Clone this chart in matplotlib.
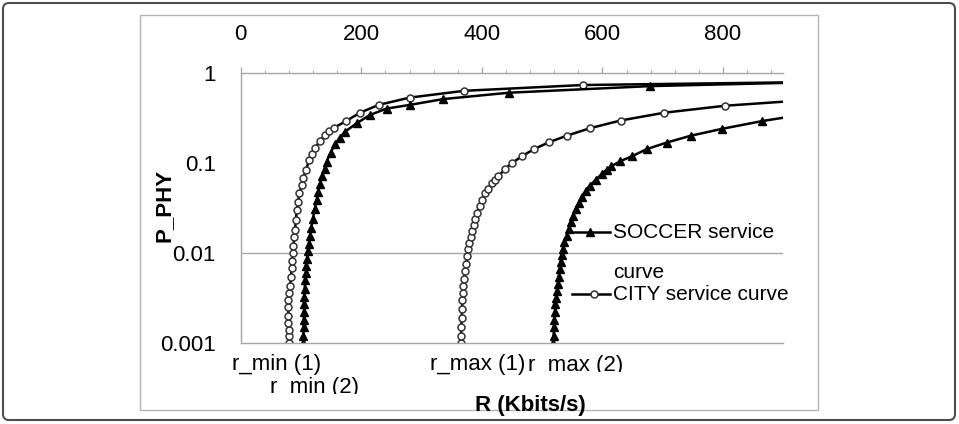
import matplotlib.pyplot as plt
from matplotlib.patches import FancyBboxPatch, Rectangle
from matplotlib.lines import Line2D
from matplotlib.ticker import MultipleLocator, NullLocator
from matplotlib.transforms import Bbox

plt.rcParams['font.family'] = ['Liberation Sans', 'DejaVu Sans']

# service curves (R in Kbits/s, P_PHY)
city1_r = [80.6, 80.0, 79.5, 79.0, 79.0, 79.0, 79.2, 80.5, 82.0, 83.4, 84.5, 85.5,
           86.2, 87.5, 88.8, 90.0, 91.5, 93.0, 95.0, 97.5, 101, 104, 108, 113.8,
           118, 124, 131.5, 140, 147, 155, 174.6, 197.8, 229, 280.7, 370.8, 567, 900]
city1_p = [0.001, 0.0012, 0.0014, 0.0017, 0.002, 0.0025, 0.003, 0.0036, 0.0043, 0.0055,
           0.0068, 0.0082, 0.010, 0.012, 0.015, 0.018, 0.023, 0.030, 0.037, 0.046, 0.057,
           0.068, 0.083, 0.108, 0.125, 0.148, 0.175, 0.205, 0.225, 0.246, 0.29, 0.36,
           0.44, 0.53, 0.63, 0.73, 0.78]

soccer1_r = [103.8, 104.0, 104.3, 104.6, 105, 105, 105.3, 106, 107, 108, 109, 110.4,
             111.5, 113, 115, 117, 119.5, 123.2, 126, 129, 131.5, 135, 139, 142.6, 149,
             156.4, 164, 173, 192.4, 214.4, 242, 280.8, 336, 445, 679, 900]
soccer1_p = [0.001, 0.0012, 0.0015, 0.0018, 0.0022, 0.0027, 0.0033, 0.004, 0.005, 0.006,
             0.0072, 0.0087, 0.0105, 0.0125, 0.0155, 0.019, 0.024, 0.031, 0.039, 0.048,
             0.058, 0.0707, 0.085, 0.103, 0.13, 0.16, 0.19, 0.222, 0.275, 0.34, 0.40,
             0.44, 0.51, 0.60, 0.71, 0.77]

city2_r = [364.8, 365.5, 366, 366.5, 367, 367.8, 368.5, 369.3, 370.5, 372, 373.6, 375.5,
           377.5, 379.5, 381.4, 384, 386.5, 389, 392.5, 396.9, 401, 405.2, 410.5, 416.3,
           421.5, 427.3, 438, 449.4, 466, 486.4, 511, 540.6, 579, 630, 702.5, 803, 900]
city2_p = [0.001, 0.0012, 0.0015, 0.0019, 0.0024, 0.003, 0.0036, 0.0043, 0.0052, 0.0063,
           0.0076, 0.0092, 0.011, 0.0128, 0.015, 0.0175, 0.0205, 0.024, 0.028, 0.033,
           0.039, 0.046, 0.052, 0.0595, 0.065, 0.0707, 0.085, 0.099, 0.118, 0.142, 0.169,
           0.20, 0.242, 0.295, 0.36, 0.43, 0.477]

soccer2_r = [518.4, 519, 519.5, 520, 521, 522, 523, 524.5, 526, 527.5, 529, 530.5, 532.3,
             534.5, 537, 540.6, 544, 547.5, 551.6, 556, 560.5, 565.5, 572, 579, 589, 598.7,
             607, 615, 628.9, 648.4, 673.3, 706.5, 746.3, 797.7, 865, 900]
soccer2_p = [0.001, 0.0012, 0.0015, 0.0018, 0.0022, 0.0027, 0.0032, 0.0038, 0.0046, 0.0055,
             0.0066, 0.0079, 0.0095, 0.0112, 0.0132, 0.0155, 0.0185, 0.022, 0.026, 0.031,
             0.036, 0.042, 0.049, 0.056, 0.065, 0.075, 0.084, 0.092, 0.104, 0.118, 0.142,
             0.168, 0.20, 0.238, 0.291, 0.317]

y_ticks = [0.001, 0.01, 0.1, 1]
y_tick_labels = ['0.001', '0.01', '0.1', '1']
rate_labels = ['r_min (1)', 'r_min (2)', 'r_max (1)', 'r_max (2)']
legend_labels = ['SOCCER service', 'curve', 'CITY service curve']

W, H = 959, 424
fig = plt.figure(figsize=(W / 100, H / 100), dpi=100)

# plot area in pixels: left 240.7, right 783.3, top 72.7, bottom 343.3
ax = fig.add_axes([240.7 / W, 1 - 343.3 / H, (783.3 - 240.7) / W, (343.3 - 72.7) / H])

circ = dict(color='black', lw=1.8, marker='o', markersize=5, mfc='white',
            mec='#333333', mew=1.1)
tri = dict(color='black', lw=1.8, marker='^', markersize=5.5, mfc='black', mec='black')

ax.plot(city1_r, city1_p, markevery=list(range(len(city1_r) - 1)), **circ)
ax.plot(soccer1_r, soccer1_p, markevery=list(range(len(soccer1_r) - 1)), **tri)
ax.plot(city2_r, city2_p, markevery=list(range(len(city2_r) - 1)), **circ)
ax.plot(soccer2_r, soccer2_p, markevery=list(range(len(soccer2_r) - 1)), **tri)

ax.set_yscale('log')
ax.set_xlim(0, 900)
ax.set_ylim(0.001, 1)
ax.axhline(0.01, color='#a6a6a6', lw=1, zorder=0)

ax.set_yticks(y_ticks)
ax.set_yticklabels(y_tick_labels)
ax.yaxis.set_minor_locator(NullLocator())
ax.tick_params(axis='y', length=0, pad=18, labelsize=16)

ax.xaxis.tick_top()
ax.xaxis.set_major_locator(MultipleLocator(200))
ax.xaxis.set_minor_locator(MultipleLocator(40))
ax.tick_params(axis='x', which='major', direction='out', length=4, color='#999999',
               labelsize=16, pad=16)
ax.tick_params(axis='x', which='minor', direction='out', length=2.5, color='#999999')

ax.spines['right'].set_visible(False)
for s in ['left', 'top', 'bottom']:
    ax.spines[s].set_color('#a6a6a6')
    ax.spines[s].set_linewidth(1)

# overlay in pixel coordinates for frames, labels and legend
ov = fig.add_axes([0, 0, 1, 1])
ov.set_xlim(0, W)
ov.set_ylim(H, 0)
ov.axis('off')
ov.patch.set_visible(False)

ov.add_patch(FancyBboxPatch((3, 3), 952, 417, boxstyle='round,pad=0,rounding_size=6',
                            fc='none', ec='#4d4d4d', lw=1.5))
ov.add_patch(Rectangle((140, 15), 678, 395, fc='none', ec='#b5b5b5', lw=1))

ov.text(164, 205, 'P_PHY', rotation=90, ha='center', va='center', fontsize=16,
        fontweight='bold')
ov.text(530, 405, 'R (Kbits/s)', ha='center', va='center', fontsize=16,
        fontweight='bold')

# label baselines; the second r_min and r_max labels are cut off just below the baseline
label_pos = [(277, 370), (314, 393), (478, 370), (576, 371)]
label_clip = [None, 393, None, 371]
for lab, (x, y), clip in zip(rate_labels, label_pos, label_clip):
    t = ov.text(x, y, lab, ha='center', va='baseline', fontsize=16)
    if clip is not None:
        t.set_clip_box(Bbox.from_extents(0, H - clip - 1, W, H))
        t.set_clip_on(True)

ov.add_line(Line2D([572, 610], [232.3, 232.3], color='black', lw=1.8))
ov.plot([590], [232.3], marker='^', markersize=5.5, mfc='black', mec='black', ls='none')
ov.add_line(Line2D([572, 610], [294.3, 294.3], color='black', lw=1.8))
ov.plot([594], [294.3], marker='o', markersize=5, mfc='white', mec='#333333', mew=1.1,
        ls='none')
for lab, y in zip(legend_labels, [232.3, 272.7, 294.3]):
    ov.text(613, y, lab, ha='left', va='center', fontsize=15)

fig.savefig('out.png', dpi=100)
